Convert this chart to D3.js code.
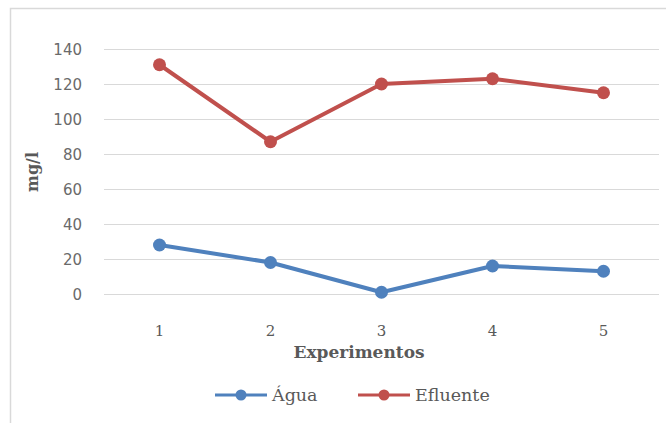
<!DOCTYPE html>
<html>
<head>
<meta charset="utf-8">
<script src="https://cdn.jsdelivr.net/npm/d3@7"></script>
<style>
  html, body { margin: 0; padding: 0; background: #fff; }
  svg { display: block; }
</style>
</head>
<body>
<svg id="chart" width="666" height="423"></svg>
<script>
// Concentrations (mg/l) per experiment
const experiments = ["1", "2", "3", "4", "5"];
const aguaValues = [28, 18, 1, 16, 13];
const efluenteValues = [131, 87, 120, 123, 115];
const yTicks = [0, 20, 40, 60, 80, 100, 120, 140];
const seriesNames = ["Água", "Efluente"];
const seriesColors = ["#4F81BD", "#C0504D"];

const series = [
  { name: seriesNames[0], color: seriesColors[0], values: aguaValues },
  { name: seriesNames[1], color: seriesColors[1], values: efluenteValues }
];

const svg = d3.select("#chart");
const W = 666, H = 423;
const plot = { left: 104, right: 659, top: 49, bottom: 294 };

svg.append("rect").attr("width", W).attr("height", H).attr("fill", "#fff");

// Chart frame
svg.append("path")
  .attr("d", `M10.5,${H} V8.5 H${W}`)
  .attr("fill", "none")
  .attr("stroke", "#d9d9d9")
  .attr("stroke-width", 1.5);

const x = d3.scaleBand().domain(experiments).range([plot.left, plot.right]);
const y = d3.scaleLinear().domain([0, 140]).range([plot.bottom, plot.top]);

// Horizontal gridlines
svg.append("g")
  .selectAll("line")
  .data(yTicks)
  .join("line")
  .attr("x1", plot.left).attr("x2", plot.right)
  .attr("y1", d => Math.round(y(d)) + 0.5).attr("y2", d => Math.round(y(d)) + 0.5)
  .attr("stroke", "#d9d9d9").attr("stroke-width", 1);

// Y axis labels
const yAxis = d3.axisLeft(y).tickValues(yTicks).tickSize(0).tickPadding(0);
const gy = svg.append("g").attr("transform", `translate(${82},0)`).call(yAxis);
gy.select(".domain").remove();
gy.selectAll("text")
  .attr("font-family", "DejaVu Sans, sans-serif")
  .attr("font-size", 15)
  .attr("fill", "#6a6a6a")
  .attr("dy", "0.35em");

// X axis labels
const xAxis = d3.axisBottom(x).tickSize(0).tickPadding(0);
const gx = svg.append("g").attr("transform", `translate(0,${331})`).call(xAxis);
gx.select(".domain").remove();
gx.selectAll("text")
  .attr("font-family", "DejaVu Serif, serif")
  .attr("font-size", 15)
  .attr("fill", "#595959")
  .attr("dy", "0.35em");

// Axis titles
svg.append("text")
  .attr("x", 359).attr("y", 352)
  .attr("dy", "0.35em")
  .attr("text-anchor", "middle")
  .attr("font-family", "DejaVu Serif, serif")
  .attr("font-weight", "bold")
  .attr("font-size", 17)
  .attr("fill", "#595959")
  .text("Experimentos");

svg.append("text")
  .attr("transform", "translate(32,172) rotate(-90)")
  .attr("dy", "0.35em")
  .attr("text-anchor", "middle")
  .attr("font-family", "DejaVu Serif, serif")
  .attr("font-weight", "bold")
  .attr("font-size", 16)
  .attr("fill", "#595959")
  .text("mg/l");

// Series lines and markers
const line = d3.line()
  .x((d, i) => x(experiments[i]) + x.bandwidth() / 2)
  .y(d => y(d));

const gs = svg.append("g")
  .selectAll("g")
  .data(series)
  .join("g");

gs.append("path")
  .attr("d", d => line(d.values))
  .attr("fill", "none")
  .attr("stroke", d => d.color)
  .attr("stroke-width", 4)
  .attr("stroke-linejoin", "round")
  .attr("stroke-linecap", "round");

gs.selectAll("circle")
  .data(d => d.values.map((v, i) => ({ v, i, color: d.color })))
  .join("circle")
  .attr("cx", d => x(experiments[d.i]) + x.bandwidth() / 2)
  .attr("cy", d => y(d.v))
  .attr("r", 6.5)
  .attr("fill", d => d.color);

// Legend
const legendItems = [
  { name: series[0].name, color: series[0].color, x: 215 },
  { name: series[1].name, color: series[1].color, x: 358 }
];
const lg = svg.append("g")
  .selectAll("g")
  .data(legendItems)
  .join("g")
  .attr("transform", d => `translate(${d.x},395)`);

lg.append("line")
  .attr("x1", 0).attr("x2", 52)
  .attr("stroke", d => d.color)
  .attr("stroke-width", 3);
lg.append("circle")
  .attr("cx", 26).attr("r", 5.5)
  .attr("fill", d => d.color);
lg.append("text")
  .attr("x", 57)
  .attr("dy", "0.35em")
  .attr("font-family", "DejaVu Serif, serif")
  .attr("font-size", 17.5)
  .attr("fill", "#595959")
  .text(d => d.name);
</script>
</body>
</html>
